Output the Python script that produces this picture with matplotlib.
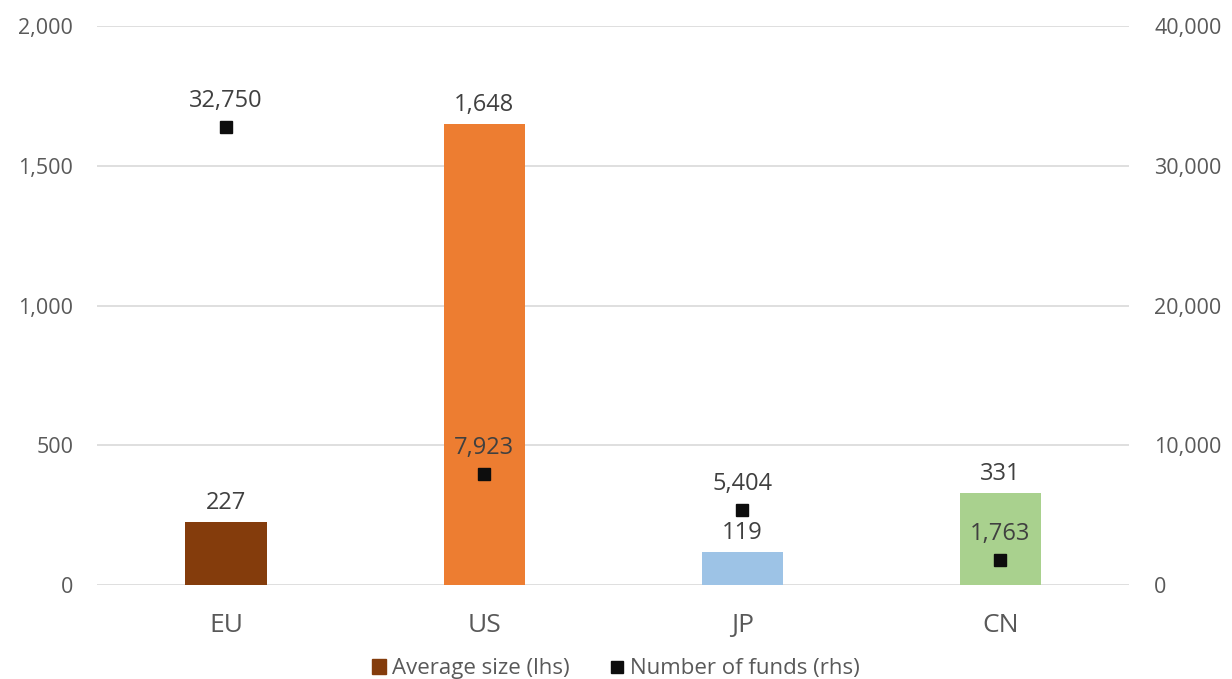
import matplotlib.pyplot as plt
import numpy as np
from matplotlib.ticker import FuncFormatter
from matplotlib.lines import Line2D
import matplotlib.patches as mpatches

plt.rcParams['font.family'] = ['Open Sans', 'DejaVu Sans']

# data
regions = ['EU', 'US', 'JP', 'CN']
avg_size = [227, 1648, 119, 331]
num_funds = [32750, 7923, 5404, 1763]
bar_colors = ['#843C0C', '#ED7D31', '#9DC3E6', '#A9D18E']

fig = plt.figure(figsize=(12.32, 6.79), dpi=100)
ax = fig.add_axes([0.0787, 0.1384, 0.838, 0.8233])
ax2 = ax.twinx()

x = np.arange(len(regions))
ax.bar(x, avg_size, width=0.314, color=bar_colors, zorder=2)
ax2.plot(x, num_funds, linestyle='none', marker='s', markersize=9.3,
         color='#0D0D0D', zorder=3)

ax.set_ylim(0, 2000)
ax2.set_ylim(0, 40000)
ax.set_xlim(-0.5, 3.5)
ax.set_yticks([0, 500, 1000, 1500, 2000])
ax2.set_yticks([0, 10000, 20000, 30000, 40000])
fmt = FuncFormatter(lambda v, p: f'{v:,.0f}')
ax.yaxis.set_major_formatter(fmt)
ax2.yaxis.set_major_formatter(fmt)

ax.grid(axis='y', color='#D9D9D9', linewidth=1.2, zorder=0)
ax.set_axisbelow(True)
for a in (ax, ax2):
    for s in a.spines.values():
        s.set_visible(False)
    a.tick_params(length=0, labelsize=15.5, labelcolor='#595959')
ax.tick_params(axis='y', pad=17)
ax2.tick_params(axis='y', pad=18)
ax.set_xticks(x)
ax.set_xticklabels(regions)
ax.tick_params(axis='x', labelsize=19, pad=20)

# data labels
for xi, v in zip(x, avg_size):
    ax.annotate(f'{v:,}', (xi, v), xytext=(0, 5), textcoords='offset points',
                ha='center', va='bottom', fontsize=17, color='#404040')
for xi, v in zip(x, num_funds):
    ax2.annotate(f'{v:,}', (xi, v), xytext=(0, 10), textcoords='offset points',
                 ha='center', va='bottom', fontsize=17, color='#404040')

handles = [mpatches.Patch(color='#843C0C', label='Average size (lhs)'),
           Line2D([], [], linestyle='none', marker='s', markersize=9,
                  color='#0D0D0D', label='Number of funds (rhs)')]
fig.legend(handles=handles, loc='lower center', ncol=2, frameon=False,
           fontsize=16, labelcolor='#595959', bbox_to_anchor=(0.5, -0.03),
           handlelength=0.6, handletextpad=0.3, columnspacing=1.8)

fig.savefig('out.png', dpi=100)
